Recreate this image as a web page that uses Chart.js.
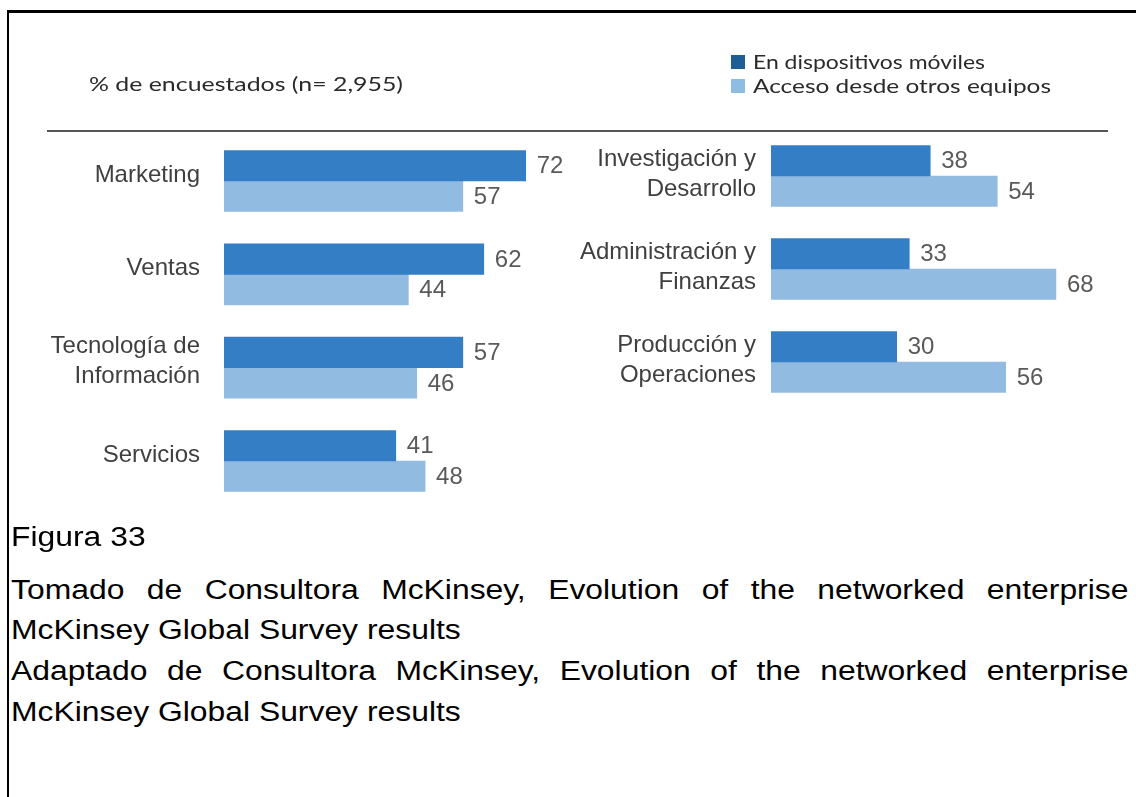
<!DOCTYPE html>
<html>
<head>
<meta charset="utf-8">
<script src="https://cdn.jsdelivr.net/npm/chart.js@4.4.1/dist/chart.umd.min.js"></script>
<style>
  html, body { margin: 0; padding: 0; background: #fff; }
  #page { position: relative; width: 1136px; height: 797px; overflow: hidden; background: #fff; }
  .frame-top { position: absolute; left: 7px; top: 10px; width: 1129px; height: 3px; background: #000; }
  .frame-left { position: absolute; left: 7px; top: 10px; width: 2px; height: 787px; background: #000; }
  .rule { position: absolute; left: 47px; top: 130px; width: 1061px; height: 2px; background: #555; }
  canvas { position: absolute; top: 0; }
  #leftChart { left: 0; }
  #rightChart { left: 570px; }
  .hdr { position: absolute; font-family: Lato, "Open Sans", sans-serif; font-size: 19px; line-height: 22px;
         color: #2a2a2a; white-space: nowrap; transform-origin: 0 50%; }
  .swatch { position: absolute; width: 14px; height: 14px; }
  .foot { position: absolute; left: 11px; font-family: "Liberation Sans", Arial, sans-serif; font-size: 27px;
          line-height: 30px; color: #000; white-space: nowrap; transform: scaleX(1.18); transform-origin: 0 50%; }
  .foot.justified { width: 947px; text-align: justify; text-align-last: justify; white-space: normal; }
</style>
</head>
<body>
<div id="page">
  <canvas id="leftChart" width="570" height="560"></canvas>
  <canvas id="rightChart" width="566" height="560"></canvas>

  <div class="frame-top"></div>
  <div class="frame-left"></div>
  <div class="rule"></div>

  <div class="hdr" id="subtitle" data-w="314" style="left:89px; top:73px;"></div>
  <div class="swatch" id="sw0" style="left:731px; top:55px;"></div>
  <div class="swatch" id="sw1" style="left:731px; top:79px;"></div>
  <div class="hdr" id="leg0" data-w="232" style="left:753px; top:51px;"></div>
  <div class="hdr" id="leg1" data-w="298" style="left:753px; top:75px;"></div>

  <div class="foot" style="top:522px;">Figura 33</div>
  <div class="foot justified" style="top:575px;">Tomado de Consultora McKinsey, Evolution of the networked enterprise</div>
  <div class="foot" style="top:615px;">McKinsey Global Survey results</div>
  <div class="foot justified" style="top:656px;">Adaptado de Consultora McKinsey, Evolution of the networked enterprise</div>
  <div class="foot" style="top:697px;">McKinsey Global Survey results</div>
</div>

<script>
// Survey shares (% of respondents) by business function
const subtitle = '% de encuestados (n= 2,955)';
const seriesNames = ['En dispositivos móviles', 'Acceso desde otros equipos'];
const seriesColors = ['#347ec6', '#92bbe2'];
const legendColors = ['#1d5e96', '#8dbde2'];

const leftCategories = ['Marketing', 'Ventas', ['Tecnología de', 'Información'], 'Servicios'];
const leftMobile = [72, 62, 57, 41];
const leftOther = [57, 44, 46, 48];

const rightCategories = [['Investigación y', 'Desarrollo'], ['Administración y', 'Finanzas'], ['Producción y', 'Operaciones']];
const rightMobile = [38, 33, 30];
const rightOther = [54, 68, 56];

// Header and legend text
document.getElementById('subtitle').textContent = subtitle;
seriesNames.forEach((name, i) => {
  document.getElementById('leg' + i).textContent = name;
  document.getElementById('sw' + i).style.background = legendColors[i];
});
document.querySelectorAll('.hdr[data-w]').forEach(el => {
  const w = el.getBoundingClientRect().width;
  el.style.transform = 'scaleX(' + (parseFloat(el.dataset.w) / w) + ')';
});

// Value printed just past the end of each bar
const valueLabels = {
  id: 'valueLabels',
  afterDatasetsDraw(chart) {
    const ctx = chart.ctx;
    ctx.save();
    ctx.font = '24px "Liberation Sans", Arial, sans-serif';
    ctx.fillStyle = '#5a5a5a';
    ctx.textAlign = 'left';
    ctx.textBaseline = 'middle';
    chart.data.datasets.forEach((ds, i) => {
      chart.getDatasetMeta(i).data.forEach((bar, j) => {
        ctx.fillText(String(ds.data[j]), bar.x + 11, bar.y + 1);
      });
    });
    ctx.restore();
  }
};

const PX_PER_UNIT = 4.19;

function panel(id, labels, mobile, other, axisWidth, canvasWidth, padTop, padBottom, labelPad, labelShift) {
  return new Chart(document.getElementById(id), {
    type: 'bar',
    data: {
      labels: labels,
      datasets: [
        { label: seriesNames[0], data: mobile, backgroundColor: seriesColors[0], barThickness: 30.5 },
        { label: seriesNames[1], data: other, backgroundColor: seriesColors[1], barThickness: 30.5 }
      ]
    },
    options: {
      indexAxis: 'y',
      responsive: false,
      animation: false,
      layout: { padding: { top: padTop, bottom: padBottom, left: 0, right: 0 } },
      plugins: { legend: { display: false }, tooltip: { enabled: false } },
      scales: {
        x: { display: false, min: 0, max: (canvasWidth - axisWidth) / PX_PER_UNIT },
        y: {
          grid: { display: false, drawTicks: false },
          border: { display: false },
          ticks: {
            padding: labelPad,
            labelOffset: labelShift,
            color: '#404040',
            font: { family: '"Liberation Sans", Arial, sans-serif', size: 24, lineHeight: 1.25 }
          },
          afterFit(scale) { scale.width = axisWidth; }
        }
      }
    },
    plugins: [valueLabels]
  });
}

panel('leftChart', leftCategories, leftMobile, leftOther, 224, 570, 134.3, 52.3, 24, -6);
panel('rightChart', rightCategories, rightMobile, rightOther, 201, 566, 129.5, 151.5, 15, -2);
</script>
</body>
</html>
